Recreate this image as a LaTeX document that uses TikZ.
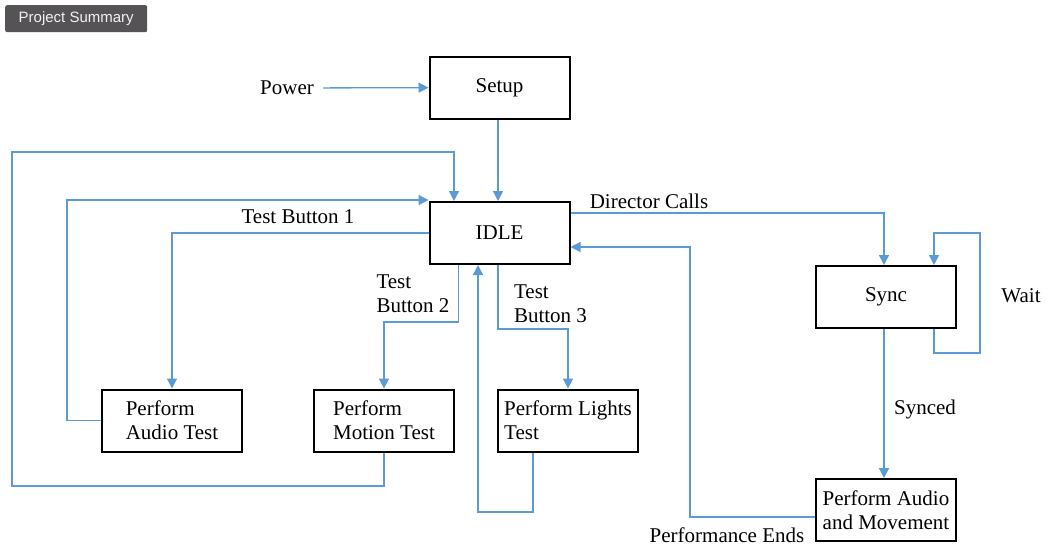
\documentclass[tikz,border=0pt]{standalone}
\usepackage{fontspec}
\setmainfont{Liberation Serif}
\newfontfamily\badgefont{Liberation Sans}
\usepackage{xcolor}
\usetikzlibrary{arrows.meta,positioning}

\definecolor{flowblue}{HTML}{5B9BD5}
\definecolor{badgegray}{HTML}{555356}

\tikzset{
  state/.style={draw=black,line width=2pt,minimum width=140pt,minimum height=62pt,align=left,inner sep=3pt},
  flow/.style={color=flowblue,draw,line width=1.3pt,-{Triangle[length=10pt,width=10pt]}},
  tag/.style={align=left,inner sep=0pt},
  badge/.style={fill=badgegray,text=white!90!gray,rounded corners=2pt,font=\badgefont\fontsize{15}{18}\selectfont,minimum width=142pt,minimum height=27pt,inner sep=0pt}
}

\begin{document}
\begin{tikzpicture}[x=1pt,y=-1pt,font=\fontsize{21}{24}\selectfont]
         \useasboundingbox (0,0) rectangle (1046,546);
         \node[badge,name=badge,anchor=north west] at (5,5) {Project Summary};

         % states
         \node[state,name=setup] at (499.5,87.5) {Setup};
         \node[state,name=idle] at (499.5,233) {IDLE};
         \node[state,name=sync] at (886,297) {Sync};
         \node[state,name=audio] at (172,420.5) {Perform\\Audio Test};
         \node[state,name=motion] at (384,420.5) {Perform\\Motion Test};
         \node[state,name=lights] at (568,420.5) {Perform Lights\\Test};
         \node[state,name=perform] at (886,510) {Perform Audio\\and Movement};

         % labels
         \node[tag,name=power] at (287,88) {Power};
         \node[tag,name=tbone] at (298,217) {Test Button 1};
         \node[tag,name=tbtwolbl] at (413,293.5) {Test\\Button 2};
         \node[tag,name=tbthreelbl] at (550.5,304) {Test\\Button 3};
         \node[tag,name=director] at (649,201) {Director Calls};
         \node[tag,name=ends] at (727,535) {Performance Ends};
         \node[tag,name=wait] at (1021,296) {Wait};
         \node[tag,name=synced] at (925,409) {Synced};

         % corners of the connectors
         \coordinate (loopa) at (12,486);
         \coordinate (loopb) at (12,152);
         \coordinate (loopc) at (67,200);
         \coordinate (tbtwo) at (384,322);
         \coordinate (tbthree) at (568,329);
         \coordinate (lret) at (478,512);
         \coordinate (pend) at (690,247);
         \coordinate (waita) at (980,353);
         \coordinate (waitb) at (980,233);

         \draw[flow,shorten <=9pt] (power) -- (setup);
         \draw[flow] ([xshift=-1.5pt]setup.south) -- ([xshift=-1.5pt]idle.north);
         \draw[flow] ([xshift=-2pt]sync.south) -- ([xshift=-2pt]perform.north);
         \draw[flow] (motion.south) |- (loopa) -- (loopb) -| ([xshift=-45.5pt]idle.north);
         \draw[flow] (audio.west) -| (loopc) -- (loopc -| idle.west);
         \draw[flow] (idle.west) -| (audio.north);
         \draw[flow] ([xshift=-41pt]idle.south) |- (tbtwo) -- (motion.north);
         \draw[flow] ([xshift=-1.5pt]idle.south) |- (tbthree) -- (lights.north);
         \draw[flow] ([xshift=-35pt]lights.south) |- (lret) -- (lret |- idle.south);
         \draw[flow] ([yshift=20pt]idle.east) -| ([xshift=-2pt]sync.north);
         \draw[flow] ([yshift=-7pt]perform.west) -| (pend) -- (pend -| idle.east);
         \draw[flow] ([xshift=48pt]sync.south) |- (waita) -- (waitb) -| ([xshift=48pt]sync.north);
\end{tikzpicture}
\end{document}
